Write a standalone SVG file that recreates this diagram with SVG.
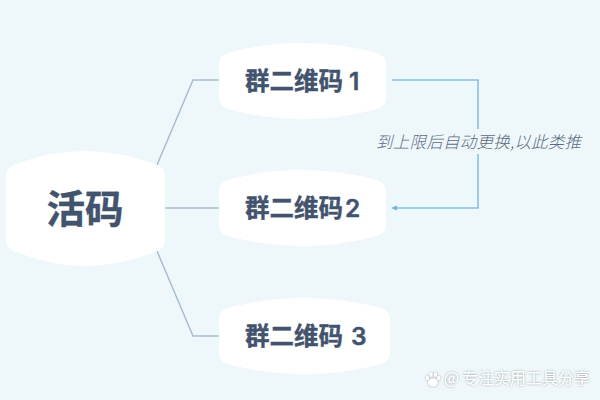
<svg xmlns="http://www.w3.org/2000/svg" width="600" height="400" viewBox="0 0 600 400">
<defs>
<filter id="halo" x="-10%" y="-30%" width="120%" height="160%"><feGaussianBlur in="SourceAlpha" stdDeviation="0.9"/><feComponentTransfer result="b"><feFuncA type="linear" slope="0.7"/></feComponentTransfer><feFlood flood-color="#6f6f6f"/><feComposite in2="b" operator="in"/><feMerge><feMergeNode/><feMergeNode in="SourceGraphic"/></feMerge></filter>
</defs>
<style>
.n{fill:#fff}
.t{font-family:"Noto Sans CJK SC","Noto Sans",sans-serif;font-weight:700;fill:#42536e;stroke:#42536e;stroke-width:.4}
.d{font-family:"Inter","Noto Sans",sans-serif;font-weight:600}
.c{fill:none;stroke:#aabdcd;stroke-width:1.500}
.b{fill:none;stroke:#83c0e6;stroke-width:1.600}
</style>
<rect width="600" height="400" fill="#eef8fb"/>
<g id="connectors">
<path class="c" d="M157 165L193 80H219"/>
<path class="c" d="M165 208H219"/>
<path class="c" d="M157 251L193 336H219"/>
<path class="b" d="M392 80H478V129M478 154V208H396"/>
<path d="M391 208L397 205.500V210.500Z" fill="#6db6e2"/>
</g>
<g id="node-main">
<path class="n" d="M14 165Q50 151 85 151T157 165Q165 168 165 177V240Q165 248 157 251Q120 266 85 266T14 251Q6 248 6 240V177Q6 168 14 165Z"/>
<text class="t" x="46.500" y="223" font-size="38.500">活码</text>
</g>
<g id="node-1">
<path class="n" d="M228 53Q265 43 302 43T377 53Q386 56 386 64V98Q386 106 377 109Q340 119 302 119T228 109Q219 106 219 98V64Q219 56 228 53Z"/>
<text class="t" x="245" y="90" font-size="24.500">群二维码<tspan class="d" x="349">1</tspan></text>
</g>
<g id="node-2">
<path class="n" d="M228 180Q265 170 302 170T377 180Q386 183 386 191V225Q386 233 377 236Q340 246 302 246T228 236Q219 233 219 225V191Q219 183 228 180Z"/>
<text class="t" x="245" y="217" font-size="24.500">群二维码<tspan class="d" x="345">2</tspan></text>
</g>
<g id="node-3">
<path class="n" d="M228 308Q265 298 304 298T381 308Q390 311 390 319V353Q390 361 381 364Q344 374 304 374T228 364Q219 361 219 353V319Q219 311 228 308Z"/>
<text class="t" x="245" y="345" font-size="24.500">群二维码<tspan class="d" x="351">3</tspan></text>
</g>
<text x="376" y="148" font-size="16.500" font-style="italic" font-weight="300" fill="#5b6b82" font-family="Noto Sans CJK SC,sans-serif" textLength="205">到上限后自动更换,以此类推</text>
<g id="watermark" filter="url(#halo)" fill="#fff">
<ellipse cx="433" cy="382.500" rx="5" ry="4"/>
<ellipse cx="427.500" cy="378" rx="1.700" ry="2.300"/>
<ellipse cx="431" cy="374.500" rx="1.700" ry="2.300"/>
<ellipse cx="435.500" cy="374.500" rx="1.700" ry="2.300"/>
<ellipse cx="438.500" cy="378" rx="1.700" ry="2.300"/>
<text x="444" y="384" font-size="16" font-family="Noto Sans CJK SC,sans-serif">@<tspan x="462">专注实用工具分享</tspan></text>
</g>
</svg>
